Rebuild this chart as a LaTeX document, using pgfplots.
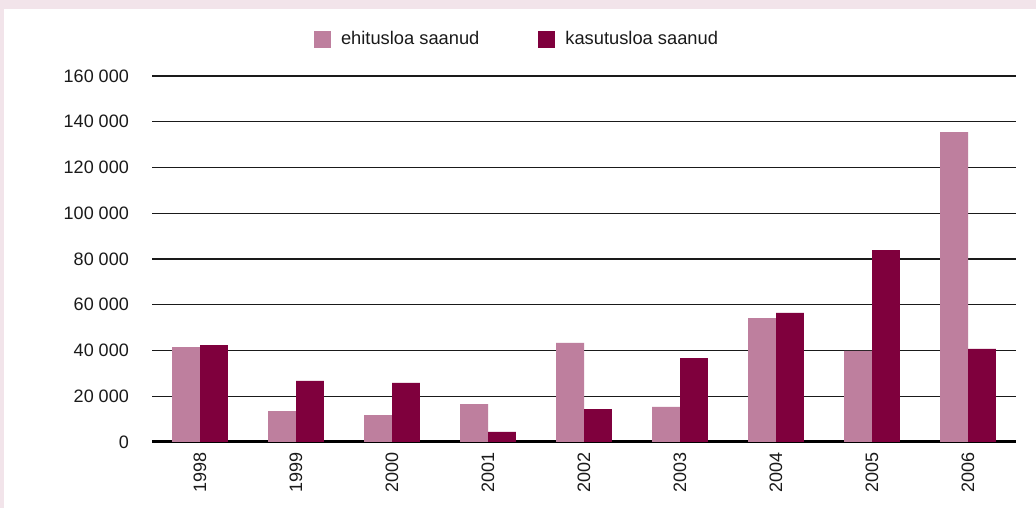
\documentclass[border=0pt]{standalone}
\usepackage{fontspec}
\setmainfont{Liberation Sans}
\usepackage{pgfplots}
\pgfplotsset{compat=1.18}
\definecolor{lightbar}{HTML}{BE7F9E}
\definecolor{darkbar}{HTML}{7F003D}
\definecolor{bgpink}{HTML}{F2E4EA}
\definecolor{txt}{HTML}{1A1A1A}
\begin{document}
\begin{tikzpicture}
\fill[bgpink] (0,0) rectangle (1036pt,508pt);
\fill[white] (4pt,0) rectangle (1036pt,499pt);
\begin{axis}[
  at={(152pt,66pt)}, anchor=south west,
  scale only axis, width=864pt, height=366pt,
  xmin=-0.5, xmax=8.5, ymin=0, ymax=160000,
  scaled y ticks=false,
  ybar=0pt, bar width=0.29,
  xtick={0,...,8},
  xticklabels={1998,1999,2000,2001,2002,2003,2004,2005,2006},
  ytick={0,20000,40000,60000,80000,100000,120000,140000,160000},
  yticklabels={0,20 000,40 000,60 000,80 000,100 000,120 000,140 000,160 000},
  major tick length=0pt,
  ymajorgrids, grid style={txt, line width=1.2pt},
  axis x line*=bottom, axis y line*=left,
  y axis line style={draw=none},
  x axis line style={line width=3pt, black, -},
  font=\fontsize{18}{22}\selectfont,
  every tick label/.append style={text=txt},
  yticklabel style={anchor=east, inner sep=0pt, xshift=-23pt},
  xticklabel style={rotate=90, anchor=east, inner sep=0pt},
  xticklabel shift={10pt},
  legend columns=2,
  legend style={draw=none, fill=none, at={(0.4225,1.101)}, anchor=center,
    font=\fontsize{18.3}{22}\selectfont, text=txt,
    /tikz/every even column/.append style={column sep=57pt},
    /tikz/every odd column/.append style={column sep=8pt}},
  legend image code/.code={\fill[#1,draw=none] (0pt,-8.5pt) rectangle (17pt,8.5pt);},
]
\addplot[fill=lightbar, draw=none] coordinates {
  (0,41500) (1,13500) (2,11800) (3,16600) (4,43300) (5,15300) (6,54200) (7,39800) (8,135500)};
\addplot[fill=darkbar, draw=none] coordinates {
  (0,42400) (1,26700) (2,25800) (3,4400) (4,14400) (5,36700) (6,56400) (7,83900) (8,40700)};
\legend{ehitusloa saanud, kasutusloa saanud}
\end{axis}
\pgfresetboundingbox
\path (0,0) rectangle (1036pt,508pt);
\end{tikzpicture}
\end{document}
